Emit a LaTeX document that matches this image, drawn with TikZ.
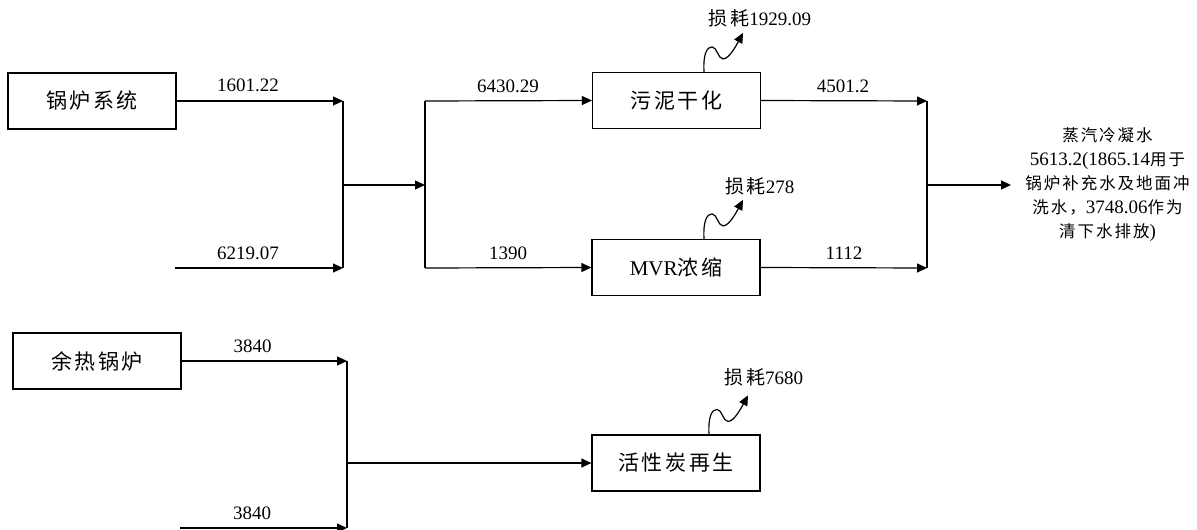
\documentclass[tikz,border=0pt]{standalone}
\usepackage{fontspec}
\setmainfont{Liberation Serif}
\newfontfamily\cjk{Noto Sans CJK SC}[LetterSpace=12]
\newcommand\rcjk[1]{{\fontsize{16.5pt}{24pt}\selectfont\cjk #1}}
\usetikzlibrary{arrows.meta}
\begin{document}
\begin{tikzpicture}[x=1pt,y=-1pt,
  line width=1.2pt,
  boxnode/.style={draw, line width=1.2pt, minimum width=168pt, minimum height=56pt, inner sep=0pt, font=\fontsize{21pt}{24pt}\selectfont},
  flow/.style={-{Triangle[length=10pt,width=9pt]}},
  lab/.style={font=\fontsize{19pt}{24pt}\selectfont, inner sep=0pt},
  loss/.pic={\draw[-{Triangle[length=10pt,width=9pt]}] (0,0) .. controls (-1,-18) and (3,-25) .. (8,-25) .. controls (13,-25) and (14,-13) .. (19,-13) .. controls (25,-13) and (32,-26) .. (39,-39);}
]
\useasboundingbox (0,0) rectangle (1197,530);

% boxes
\node[boxnode] (b1) at (92,101) {\cjk 锅炉系统};
\node[boxnode] (b2) at (676.5,100.5) {\cjk 污泥干化};
\node[boxnode] (b3) at (676,267.5) {MVR{\cjk 浓缩}};
\node[boxnode] (b4) at (97,361) {\cjk 余热锅炉};
\node[boxnode] (b5) at (676,463) {\cjk 活性炭再生};

% junction coordinates
\coordinate (i1) at (175,268);
\coordinate (j1t) at (343,101);
\coordinate (j1b) at (343,268);
\coordinate (j1m) at (343,185);
\coordinate (j2t) at (425,101);
\coordinate (j2b) at (425,268);
\coordinate (j2m) at (425,185);
\coordinate (j3t) at (927,101);
\coordinate (j3b) at (927,268);
\coordinate (j3m) at (927,185);
\coordinate (o3) at (1011,185);
\coordinate (i4) at (180,528);
\coordinate (j4t) at (347,361);
\coordinate (j4b) at (347,528);
\coordinate (j4m) at (347,463);

% connectors
\draw[flow] (b1.east) -- (j1t);
\draw[flow] (i1) -- (j1b);
\draw (j1t) -- (j1b);
\draw[flow] (j1m) -- (j2m);
\draw (j2t) -- (j2b);
\draw[flow] (j2t) -- (b2.west);
\draw[flow] (j2b) -- (b3.west);
\draw[flow] (b2.east) -- (j3t);
\draw[flow] (b3.east) -- (j3b);
\draw (j3t) -- (j3b);
\draw[flow] (j3m) -- (o3);
\draw[flow] (b4.east) -- (j4t);
\draw[flow] (i4) -- (j4b);
\draw (j4t) -- (j4b);
\draw[flow] (j4m) -- (b5.west);

% loss squiggles
\pic at ([xshift=27.5pt]b2.north) {loss};
\pic at ([xshift=28pt]b3.north) {loss};
\pic at ([xshift=33pt]b5.north) {loss};

% labels
\node[lab] (l1) at (248,85.5) {1601.22};
\node[lab] (l2) at (248,253.5) {6219.07};
\node[lab] (l3) at (508,86) {6430.29};
\node[lab] (l4) at (508,253) {1390};
\node[lab] (l5) at (843,86) {4501.2};
\node[lab] (l6) at (844,253) {1112};
\node[lab] (l7) at (252.5,346) {3840};
\node[lab] (l8) at (252,513) {3840};
\node[lab] (s1) at (760,18.5) {{\cjk 损耗}1929.09};
\node[lab] (s2) at (760,186) {{\cjk 损耗}278};
\node[lab] (s3) at (764,377) {{\cjk 损耗}7680};
\node[lab, align=center] (out) at (1107.5,184.5) {\rcjk{蒸汽冷凝水}\\5613.2(1865.14\rcjk{用于}\\\rcjk{锅炉补充水及地面冲}\\\rcjk{洗水，}3748.06\rcjk{作为}\\\rcjk{清下水排放})};
\end{tikzpicture}
\end{document}
